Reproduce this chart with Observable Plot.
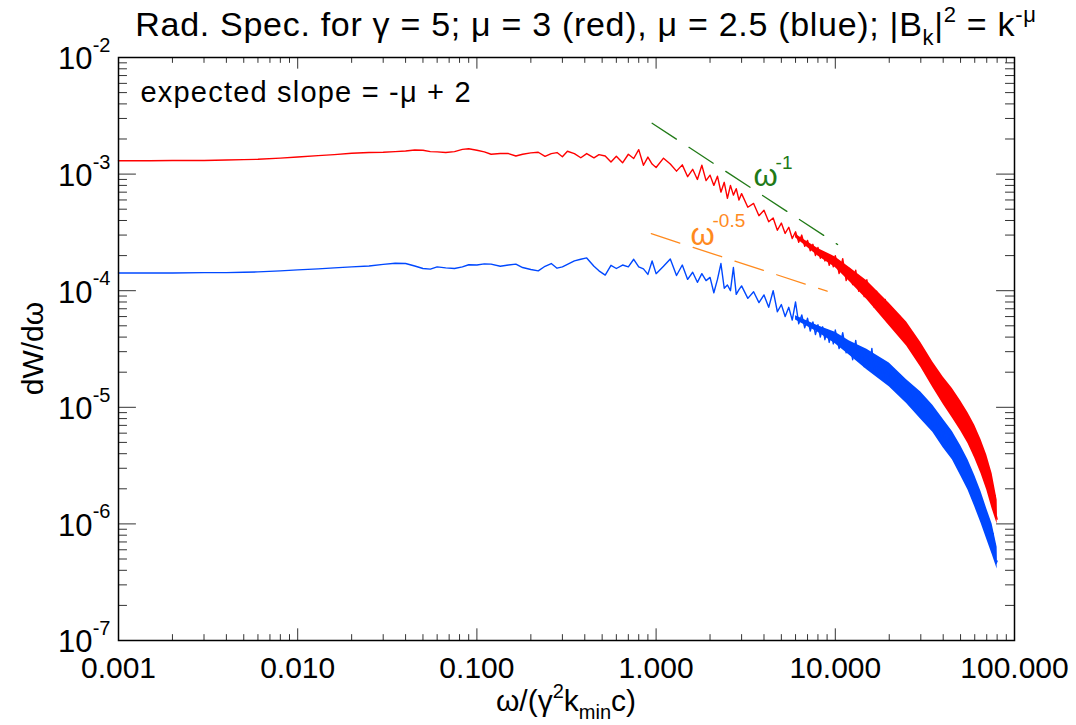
<!DOCTYPE html>
<html>
<head>
<meta charset="utf-8">
<script src="https://cdn.jsdelivr.net/npm/d3@7"></script>
<script src="https://cdn.jsdelivr.net/npm/@observablehq/plot@0.6"></script>
<style>
  html, body { margin: 0; padding: 0; background: #fff; }
  #chart svg { display: block; }
</style>
</head>
<body>
<div id="chart"></div>
<script>
// ---- data ----
const omega = [
  0.001, 0.0015, 0.002, 0.003, 0.004, 0.005, 0.006, 0.008, 0.01, 0.013,
  0.016, 0.02, 0.025, 0.03, 0.035, 0.04, 0.045, 0.05, 0.055, 0.06,
  0.067, 0.075, 0.083, 0.09, 0.1, 0.11, 0.12, 0.135, 0.15, 0.165,
  0.18, 0.2, 0.22, 0.24, 0.26, 0.28, 0.3, 0.32, 0.35, 0.38,
  0.41, 0.45, 0.48, 0.52, 0.56, 0.6, 0.65, 0.7, 0.75, 0.8,
  0.85, 0.9, 0.95,
  1.0, 1.1, 1.2, 1.3, 1.4, 1.5, 1.6, 1.7, 1.8, 1.9,
  2.0, 2.1, 2.2, 2.3, 2.4, 2.5, 2.6, 2.7, 2.8, 2.9,
  3.0, 3.25, 3.5, 3.75, 4.0, 4.25, 4.5, 4.75, 5.0, 5.25,
  5.5, 5.75, 6.0, 6.25, 6.5, 6.75, 7.0, 7.25, 7.5, 7.75,
  8.0, 8.25, 8.5, 8.75, 9.0, 9.25, 9.5, 9.75,
  10, 10.5, 11, 11.5, 12, 12.5, 13, 13.5, 14, 14.5,
  15, 15.5, 16, 16.5, 17, 17.5, 18, 18.5, 19, 19.5,
  20, 20.5, 21, 21.5, 22, 22.5, 23, 23.5, 24, 24.5,
  25, 25.5, 26, 26.5, 27, 27.5, 28, 28.5, 29, 29.5,
  30, 31, 32, 33, 34, 35, 36, 37, 38, 39,
  40, 41, 42, 43, 44, 45, 46, 47, 48, 49,
  50, 51, 52, 53, 54, 55, 56, 57, 58, 59,
  60, 61, 62, 63, 64, 65, 66, 67, 68, 69,
  70, 71, 72, 73, 74, 75, 76, 77, 78, 79,
  80
];

const dWdOmegaRed = [
  1.30e-3, 1.30e-3, 1.31e-3, 1.31e-3, 1.32e-3, 1.33e-3, 1.34e-3, 1.37e-3, 1.40e-3, 1.44e-3,
  1.47e-3, 1.51e-3, 1.53e-3, 1.54e-3, 1.56e-3, 1.58e-3, 1.61e-3, 1.60e-3, 1.56e-3, 1.55e-3,
  1.53e-3, 1.56e-3, 1.63e-3, 1.65e-3, 1.60e-3, 1.55e-3, 1.48e-3, 1.50e-3, 1.50e-3, 1.43e-3,
  1.48e-3, 1.52e-3, 1.54e-3, 1.42e-3, 1.50e-3, 1.53e-3, 1.41e-3, 1.57e-3, 1.50e-3, 1.38e-3,
  1.50e-3, 1.38e-3, 1.47e-3, 1.43e-3, 1.27e-3, 1.42e-3, 1.25e-3, 1.48e-3, 1.36e-3, 1.62e-3,
  1.19e-3, 1.40e-3, 1.22e-3,
  1.14e-3, 1.37e-3, 1.22e-3, 1.06e-3, 1.20e-3, 0.95e-3, 1.10e-3, 0.90e-3, 1.19e-3, 0.88e-3,
  0.98e-3, 0.80e-3, 0.96e-3, 0.70e-3, 0.85e-3, 0.62e-3, 0.80e-3, 0.66e-3, 0.75e-3, 0.60e-3,
  6.8e-4, 5.2e-4, 5.6e-4, 4.4e-4, 4.9e-4, 3.9e-4, 4.2e-4, 3.3e-4, 3.8e-4, 3.1e-4,
  3.5e-4, 2.8e-4, 3.2e-4, 2.6e-4, 3.0e-4, 2.4e-4, 2.7e-4, 2.2e-4, 2.5e-4, 2.0e-4,
  2.35e-4, 1.9e-4, 2.15e-4, 1.8e-4, 2.0e-4, 1.65e-4, 1.9e-4, 1.6e-4,
  2.0e-4, 1.40e-4, 1.88e-4, 1.22e-4, 1.55e-4, 1.13e-4, 1.50e-4, 9.9e-5, 1.28e-4, 8.9e-5,
  1.24e-4, 8.3e-5, 1.03e-4, 7.2e-5, 9.9e-5, 7.0e-5, 8.9e-5, 6.1e-5, 8.4e-5, 5.8e-5,
  7.2e-5, 5.0e-5, 6.9e-5, 4.9e-5, 6.2e-5, 4.3e-5, 6.0e-5, 4.1e-5, 5.2e-5, 3.7e-5,
  5.0e-5, 3.5e-5, 4.5e-5, 3.1e-5, 4.2e-5, 3.0e-5, 3.85e-5, 2.7e-5, 3.6e-5, 2.55e-5,
  3.36e-5, 2.20e-5, 2.75e-5, 1.82e-5, 2.45e-5, 1.62e-5, 1.98e-5, 1.39e-5, 1.83e-5, 1.30e-5,
  1.65e-5, 1.13e-5, 1.45e-5, 9.9e-6, 1.39e-5, 9.5e-6, 1.18e-5, 8.3e-6, 1.10e-5, 7.8e-6,
  1.01e-5, 6.9e-6, 8.9e-6, 6.15e-6, 8.5e-6, 5.85e-6, 7.2e-6, 5.05e-6, 6.7e-6, 4.8e-6,
  6.1e-6, 4.1e-6, 5.25e-6, 3.55e-6, 4.9e-6, 3.35e-6, 4.1e-6, 2.85e-6, 3.75e-6, 2.65e-6,
  3.4e-6, 2.25e-6, 2.85e-6, 1.9e-6, 2.6e-6, 1.72e-6, 2.05e-6, 1.38e-6, 1.75e-6, 1.19e-6,
  1.1e-6
];

const dWdOmegaBlue = [
  1.42e-4, 1.42e-4, 1.42e-4, 1.43e-4, 1.43e-4, 1.44e-4, 1.45e-4, 1.48e-4, 1.51e-4, 1.54e-4,
  1.57e-4, 1.60e-4, 1.63e-4, 1.68e-4, 1.72e-4, 1.71e-4, 1.63e-4, 1.55e-4, 1.53e-4, 1.60e-4,
  1.57e-4, 1.55e-4, 1.60e-4, 1.67e-4, 1.66e-4, 1.70e-4, 1.69e-4, 1.62e-4, 1.66e-4, 1.69e-4,
  1.58e-4, 1.52e-4, 1.48e-4, 1.62e-4, 1.71e-4, 1.56e-4, 1.60e-4, 1.68e-4, 1.80e-4, 1.86e-4,
  1.91e-4, 1.62e-4, 1.48e-4, 1.36e-4, 1.65e-4, 1.55e-4, 1.66e-4, 1.60e-4, 1.86e-4, 1.60e-4,
  1.54e-4, 1.38e-4, 1.80e-4,
  1.40e-4, 1.62e-4, 1.87e-4, 1.35e-4, 1.66e-4, 1.25e-4, 1.44e-4, 1.18e-4, 1.40e-4, 1.22e-4,
  1.30e-4, 0.96e-4, 1.25e-4, 1.71e-4, 1.05e-4, 1.12e-4, 1.00e-4, 1.58e-4, 0.93e-4, 1.02e-4,
  1.10e-4, 8.6e-5, 9.8e-5, 7.9e-5, 9.2e-5, 7.2e-5, 1.00e-4, 6.6e-5, 7.6e-5, 6.0e-5,
  7.2e-5, 5.6e-5, 8.0e-5, 5.2e-5, 6.2e-5, 4.8e-5, 5.8e-5, 4.5e-5, 5.4e-5, 4.2e-5,
  5.1e-5, 4.0e-5, 4.9e-5, 3.8e-5, 4.6e-5, 3.6e-5, 4.4e-5, 3.5e-5,
  4.6e-5, 3.19e-5, 4.36e-5, 2.93e-5, 3.64e-5, 2.56e-5, 3.75e-5, 2.48e-5, 3.17e-5, 2.23e-5,
  3.07e-5, 2.2e-5, 3.2e-5, 2.01e-5, 2.67e-5, 1.91e-5, 2.55e-5, 1.73e-5, 2.31e-5, 1.69e-5,
  2.29e-5, 1.55e-5, 2.06e-5, 1.46e-5, 1.89e-5, 1.33e-5, 1.89e-5, 1.29e-5, 1.64e-5, 1.19e-5,
  1.63e-5, 1.14e-5, 1.51e-5, 1.05e-5, 1.49e-5, 1.04e-5, 1.33e-5, 9.7e-6, 1.31e-5, 9.3e-6,
  1.25e-5, 8.5e-6, 1.07e-5, 7.4e-6, 1.02e-5, 6.9e-6, 8.6e-6, 5.9e-6, 7.5e-6, 5.5e-6,
  7.2e-6, 4.9e-6, 6.3e-6, 4.3e-6, 6.0e-6, 4.1e-6, 5.15e-6, 3.6e-6, 4.75e-6, 3.27e-6,
  4.15e-6, 2.82e-6, 3.78e-6, 2.55e-6, 3.19e-6, 2.27e-6, 3.06e-6, 2.06e-6, 2.57e-6, 1.72e-6,
  2.28e-6, 1.56e-6, 1.94e-6, 1.35e-6, 1.8e-6, 1.2e-6, 1.52e-6, 1.04e-6, 1.37e-6, 9.2e-7,
  1.12e-6, 8.0e-7, 1.04e-6, 7.2e-7, 9.0e-7, 6.2e-7, 8.3e-7, 5.6e-7, 6.7e-7, 4.6e-7,
  4.8e-7
];

// dense-noise envelope of each spectrum at high frequency (band edges)
const bandX = [6, 8, 10, 12, 15, 20, 25, 30, 35, 40, 45, 50, 55, 60, 65, 70, 75, 80];
const redBandLow  = [2.85e-4, 1.98e-4, 1.58e-4, 1.2e-4, 8.4e-5, 5.0e-5, 3.35e-5, 2.2e-5, 1.48e-5, 1.06e-5, 8.1e-6, 6.3e-6, 4.9e-6, 3.65e-6, 2.7e-6, 1.95e-6, 1.35e-6, 1.0e-6];
const redBandHigh = [3.05e-4, 2.3e-4, 1.95e-4, 1.58e-4, 1.22e-4, 7.8e-5, 5.4e-5, 3.6e-5, 2.45e-5, 1.82e-5, 1.45e-5, 1.14e-5, 9.0e-6, 7.0e-6, 5.3e-6, 3.9e-6, 2.7e-6, 1.6e-6];
const blueBandLow  = [5.6e-5, 4.4e-5, 3.5e-5, 2.8e-5, 2.1e-5, 1.5e-5, 1.08e-5, 7.9e-6, 6.1e-6, 4.5e-6, 3.55e-6, 2.6e-6, 1.95e-6, 1.4e-6, 1.02e-6, 7.4e-7, 5.5e-7, 4.1e-7];
const blueBandHigh = [6.1e-5, 5.0e-5, 4.4e-5, 3.7e-5, 3.15e-5, 2.4e-5, 1.72e-5, 1.35e-5, 1.04e-5, 7.9e-6, 6.2e-6, 4.7e-6, 3.55e-6, 2.6e-6, 1.9e-6, 1.35e-6, 1.0e-6, 6.3e-7];

// reference power-law guides
const slopeOneX = [0.95, 10.3];
const slopeOneY = [2.73e-3, 2.49e-4];
const slopeHalfX = [0.94, 9.0];
const slopeHalfY = [3.08e-4, 9.9e-5];

// annotation anchors
const noteX = [3.5, 1.556];
const noteY = [9.54e-4, 3.01e-4];
const noteBase = ["ω", "ω"];
const noteSup = ["-1", "-0.5"];
const noteColor = ["#217a17", "#ff8a1e"];

// ticks
const xTicks = [0.001, 0.01, 0.1, 1, 10, 100];
const xTickLabels = ["0.001", "0.010", "0.100", "1.000", "10.000", "100.000"];
const yTicks = [1e-7, 1e-6, 1e-5, 1e-4, 1e-3, 1e-2];
const yTickExponents = ["-7", "-6", "-5", "-4", "-3", "-2"];

// ---- layout ----
const W = 1076, H = 725;
const mL = 118, mR = 62, mT = 57, mB = 85;
const fw = W - mL - mR, fh = H - mT - mB;
const FONT = "'Liberation Sans', Arial, Helvetica, sans-serif";
const RED = "#ff0000", BLUE = "#0048ff";

const near = (a, b) => Math.abs(a - b) / b < 1e-6;
const xMinor = d3.scaleLog().domain([xTicks[0], xTicks[xTicks.length - 1]]).ticks()
  .filter(v => !xTicks.some(t => near(v, t)));
const yMinor = d3.scaleLog().domain([yTicks[0], yTicks[yTicks.length - 1]]).ticks()
  .filter(v => !yTicks.some(t => near(v, t)));

const n = Math.min(omega.length, dWdOmegaRed.length, dWdOmegaBlue.length);
const rows = d3.range(n).map(i => ({x: omega[i], red: dWdOmegaRed[i], blue: dWdOmegaBlue[i]}));
const band = bandX.map((x, i) => ({x, rlo: redBandLow[i], rhi: redBandHigh[i], blo: blueBandLow[i], bhi: blueBandHigh[i]}));
const guideOne = slopeOneX.map((x, i) => ({x, y: slopeOneY[i]}));
const guideHalf = slopeHalfX.map((x, i) => ({x, y: slopeHalfY[i]}));
const notes = noteX.map((x, i) => ({x, y: noteY[i], base: noteBase[i], sup: noteSup[i], color: noteColor[i]}));

const xMajLen = 0.02 * fh, yMajLen = 0.02 * fw;
const tickColor = "#333";

const plot = Plot.plot({
  width: W, height: H,
  marginLeft: mL, marginRight: mR, marginTop: mT, marginBottom: mB,
  style: {fontFamily: FONT, fontSize: "30px", color: "#000", background: "#fff"},
  x: {type: "log", domain: [1e-3, 1e2], axis: null},
  y: {type: "log", domain: [1e-7, 1e-2], axis: null},
  marks: [
    // dense noise bands
    Plot.areaY(band, {x: "x", y1: "rlo", y2: "rhi", fill: RED}),
    Plot.areaY(band, {x: "x", y1: "blo", y2: "bhi", fill: BLUE}),
    // spectra
    Plot.line(rows, {x: "x", y: "red", stroke: RED, strokeWidth: 1.4}),
    Plot.line(rows, {x: "x", y: "blue", stroke: BLUE, strokeWidth: 1.4}),
    // guides
    Plot.line(guideOne, {x: "x", y: "y", stroke: "#217a17", strokeWidth: 1.3, strokeDasharray: "29,15"}),
    Plot.line(guideHalf, {x: "x", y: "y", stroke: "#ff8a1e", strokeWidth: 1.3, strokeDasharray: "30,14"}),
    // annotation labels
    Plot.text(notes, {x: "x", y: "y", text: "base", fill: "color", textAnchor: "start", fontSize: 31}),
    Plot.text(notes, {x: "x", y: "y", text: "sup", fill: "color", textAnchor: "start", fontSize: 19, dx: 22, dy: -14}),
    // inward ticks: bottom / top
    Plot.tickX(xTicks, {x: d => d, insetTop: fh - xMajLen, stroke: tickColor}),
    Plot.tickX(xTicks, {x: d => d, insetBottom: fh - xMajLen, stroke: tickColor}),
    Plot.tickX(xMinor, {x: d => d, insetTop: fh - xMajLen / 2, stroke: tickColor}),
    Plot.tickX(xMinor, {x: d => d, insetBottom: fh - xMajLen / 2, stroke: tickColor}),
    // inward ticks: left / right
    Plot.tickY(yTicks, {y: d => d, insetRight: fw - yMajLen, stroke: tickColor}),
    Plot.tickY(yTicks, {y: d => d, insetLeft: fw - yMajLen, stroke: tickColor}),
    Plot.tickY(yMinor, {y: d => d, insetRight: fw - yMajLen / 2, stroke: tickColor}),
    Plot.tickY(yMinor, {y: d => d, insetLeft: fw - yMajLen / 2, stroke: tickColor}),
    Plot.frame({stroke: "#000", strokeWidth: 1.5}),
    // x tick labels
    Plot.axisX(xTicks, {anchor: "bottom", label: null, tickSize: 0, tickPadding: 16, fontSize: 30,
      tickFormat: d => xTickLabels[xTicks.findIndex(t => near(d, t))]}),
    // y tick labels: 10 with superscript exponent
    Plot.text(yTicks, {y: d => d, frameAnchor: "left", text: () => "10", textAnchor: "end", dx: -26, dy: 2, fontSize: 31}),
    Plot.text(yTicks, {y: d => d, frameAnchor: "left", text: (d, i) => yTickExponents[i], textAnchor: "end", dx: -8, dy: -12, fontSize: 20}),
    // note in corner
    Plot.text(["expected slope = -μ + 2"], {frameAnchor: "top-left", text: d => d, dx: 22, dy: 24, fontSize: 29,
      textAnchor: "start", lineAnchor: "top"})
  ]
});

document.getElementById("chart").appendChild(plot);

// ---- title and axis titles (with sub/superscripts) ----
const svg = d3.select(plot);
svg.selectAll("text").filter(function() { return this.textContent === "expected slope = -μ + 2"; })
  .attr("letter-spacing", "1.2px");
function rich(parent, parts, size) {
  let shift = 0;
  parts.forEach(([t, kind]) => {
    const target = kind === "sup" ? -0.42 * size : kind === "sub" ? 0.25 * size : 0;
    const ts = parent.append("tspan").text(t).attr("dy", target - shift);
    if (kind) ts.attr("font-size", Math.round(size * 0.66));
    shift = target;
  });
}
const title = svg.append("text")
  .attr("x", 586).attr("y", 36)
  .attr("text-anchor", "middle").attr("font-size", 34).attr("fill", "#000")
  .attr("letter-spacing", "0.7px")
  .attr("font-family", FONT);
rich(title, [["Rad. Spec. for γ = 5; μ = 3 (red), μ = 2.5 (blue); |B", ""], ["k", "sub"], ["|", ""], ["2", "sup"], [" = k", ""], ["-μ", "sup"]], 34);

const xTitle = svg.append("text")
  .attr("x", mL + fw / 2).attr("y", 711)
  .attr("text-anchor", "middle").attr("font-size", 30).attr("fill", "#000")
  .attr("font-family", FONT);
rich(xTitle, [["ω/(γ", ""], ["2", "sup"], ["k", ""], ["min", "sub"], ["c)", ""]], 30);

svg.append("text")
  .attr("transform", `translate(43,${mT + fh / 2}) rotate(-90)`)
  .attr("text-anchor", "middle").attr("font-size", 30).attr("fill", "#000")
  .attr("font-family", FONT)
  .text("dW/dω");
</script>
</body>
</html>
